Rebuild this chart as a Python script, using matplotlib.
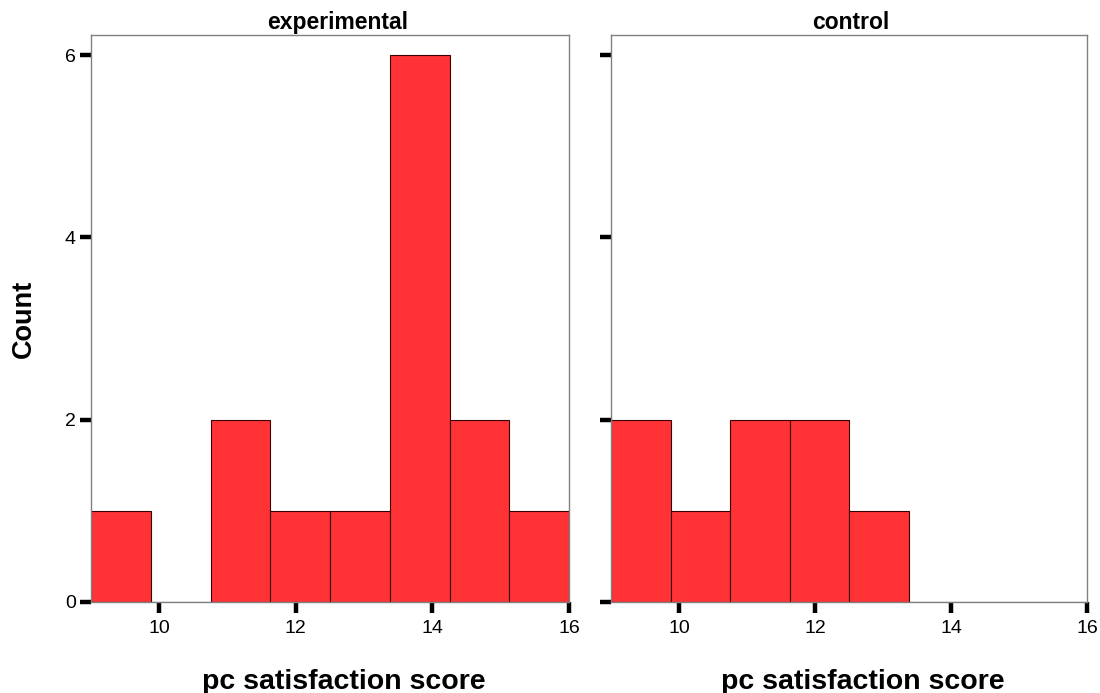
import matplotlib
matplotlib.use("Agg")
import matplotlib.pyplot as plt
import numpy as np

plt.rcParams['font.family'] = ['Liberation Sans', 'DejaVu Sans']

bin_edges = [9.0, 9.875, 10.75, 11.625, 12.5, 13.375, 14.25, 15.125, 16.0]
panels = ["experimental", "control"]
counts_experimental = [1, 0, 2, 1, 1, 6, 2, 1]
counts_control = [2, 1, 2, 2, 1, 0, 0, 0]
x_ticks = [10, 12, 14, 16]
y_ticks = [0, 2, 4, 6]
x_label = "pc satisfaction score"
y_label = "Count"

fig = plt.figure(figsize=(11, 6.93), dpi=100)
ax1 = fig.add_axes([91/1100, 91/693, 478/1100, 567/693])
ax2 = fig.add_axes([611/1100, 91/693, 476/1100, 567/693])

for ax, name, counts, tx in zip([ax1, ax2], panels,
                                [counts_experimental, counts_control], [0.515, 0.503]):
    edges = np.array(bin_edges)
    widths = np.diff(edges)
    ax.bar(edges[:-1], counts, width=widths, align='edge', color='#FF3236',
           edgecolor='#3a0000', linewidth=0.8)
    ax.set_xlim(9, 16)
    ax.set_ylim(0, 6.22)
    ax.set_xticks(x_ticks)
    ax.set_yticks(y_ticks)
    for s in ax.spines.values():
        s.set_color('#808080')
        s.set_linewidth(1.0)
    ax.tick_params(direction='out', length=8, width=3.2, color='black', labelsize=14, pad=3)
    ax.tick_params(axis='x', pad=5)
    ax.set_title(name, fontsize=16.5, fontweight='bold', pad=4, x=tx)
    ax.set_xlabel(x_label, fontsize=20.5, fontweight='bold')
    ax.xaxis.set_label_coords(0.528, -0.118, transform=ax.transAxes)
    ax.xaxis.label.set_verticalalignment('top')

ax2.tick_params(axis='y', labelleft=False)
ax1.set_ylabel(y_label, fontsize=19.5, fontweight='bold', labelpad=20)

fig.savefig("out.png", dpi=100)
